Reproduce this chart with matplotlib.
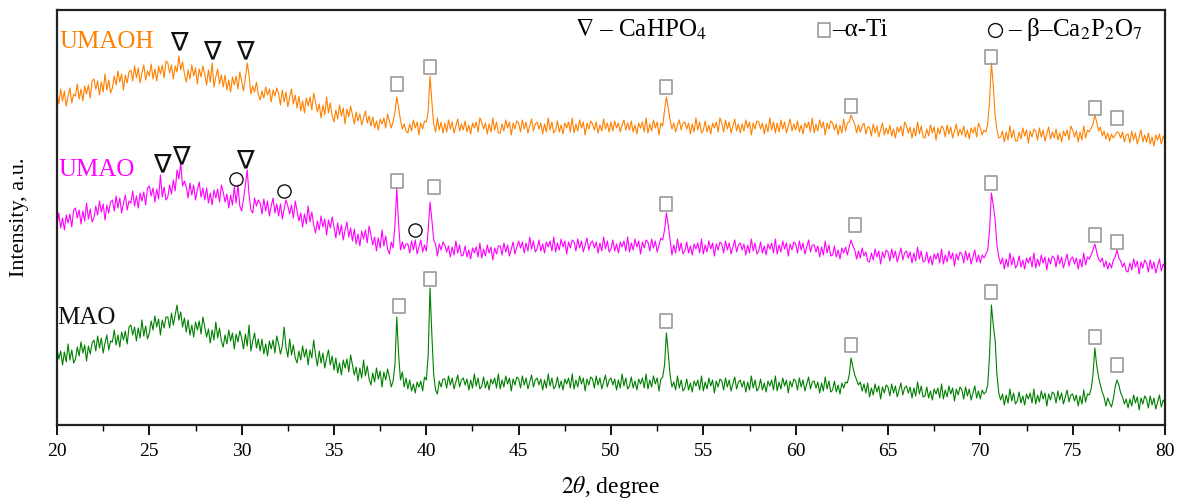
import numpy as np
import matplotlib
matplotlib.use("Agg")
import matplotlib.pyplot as plt
from matplotlib.path import Path
from matplotlib.ticker import MultipleLocator

plt.rcParams["font.family"] = ["Liberation Serif", "DejaVu Sans"]
plt.rcParams["mathtext.fontset"] = "stix"

# 2theta grid, 0.1 degree step
two_theta = np.linspace(20, 80, 601)

# intensities (a.u., each pattern above its own baseline)
umaoh = [
    67,56,71,59,69,54,64,72,57,66,
    64,76,61,71,59,74,66,75,62,79,
    81,71,79,65,78,68,86,70,80,67,
    72,84,75,89,78,86,70,85,77,88,
    90,79,94,82,92,77,87,95,80,89,
    84,96,81,91,79,94,86,95,82,99,
    97,87,95,81,94,88,104,90,98,86,
    78,90,81,95,84,92,76,91,83,94,
    86,75,90,78,97,73,83,91,76,85,
    73,85,70,80,68,83,75,84,71,88,
    79,69,82,97,85,66,74,68,78,65,
    60,69,62,73,65,71,58,70,64,72,
    66,55,70,58,68,53,63,71,56,65,
    52,64,49,59,47,62,54,63,50,67,
    58,48,56,42,55,45,63,47,57,44,
    38,50,41,55,44,52,36,51,43,54,
    45,36,48,39,46,35,42,49,37,44,
    34,43,32,39,30,41,36,42,32,46,
    39,32,38,48,63,52,40,31,36,29,
    27,36,29,40,32,38,25,37,31,39,
    38,48,84,58,36,28,42,30,38,27,
    37,28,40,31,38,27,34,41,29,36,
    30,39,28,35,26,37,32,38,28,42,
    38,31,37,26,36,28,42,30,38,27,
    27,36,29,40,32,38,25,37,31,39,
    37,28,40,31,38,27,34,41,29,36,
    38,31,37,26,36,28,42,30,38,27,
    30,39,28,35,26,37,32,38,28,42,
    27,36,29,40,32,38,25,37,31,39,
    36,30,38,27,35,29,41,31,37,28,
    38,29,39,32,37,28,35,40,30,37,
    30,39,28,35,26,37,32,38,28,42,
    27,36,29,40,32,38,25,37,34,50,
    63,52,40,31,37,28,35,40,30,37,
    38,31,37,26,36,28,42,30,38,27,
    30,39,28,35,26,37,32,38,28,42,
    37,28,40,31,38,27,34,41,29,36,
    27,36,29,40,32,38,25,37,31,39,
    38,31,37,26,36,28,42,30,38,27,
    37,28,40,31,38,27,34,41,29,36,
    30,39,28,35,26,37,32,38,28,42,
    27,36,29,40,32,38,25,37,31,39,
    37,30,36,25,35,27,41,29,37,38,
    45,40,36,27,35,28,34,37,26,33,
    33,24,36,27,34,23,30,37,25,32,
    26,35,24,31,22,33,28,34,24,38,
    34,27,33,22,32,24,38,26,34,23,
    22,31,24,35,27,33,20,32,26,34,
    32,23,35,26,33,22,29,36,24,31,
    25,34,23,30,21,32,27,33,23,37,
    32,25,30,28,36,60,97,75,45,30,
    22,23,29,18,28,20,34,22,30,19,
    19,28,21,32,24,30,17,29,23,31,
    29,20,32,23,30,19,26,33,21,28,
    22,31,20,27,18,29,24,30,20,34,
    30,23,29,18,28,20,34,22,30,28,
    32,36,45,38,29,33,24,29,21,27,
    19,26,22,25,28,27,22,28,18,25,
    26,17,29,20,27,16,23,30,18,25,
    18,27,16,23,14,25,20,26,16,24,
    20,
]

umao = [
    60,72,57,67,55,70,62,71,58,75,
    77,67,75,61,74,64,82,66,76,63,
    67,79,70,84,73,81,65,80,72,83,
    85,74,89,77,87,72,82,90,75,84,
    82,94,79,89,77,92,84,93,80,97,
    99,89,97,83,96,86,110,88,98,85,
    88,100,91,105,94,115,106,122,99,104,
    98,87,102,90,100,85,95,103,88,97,
    85,97,82,92,80,95,87,96,83,100,
    93,83,91,77,90,80,98,82,100,79,
    74,86,100,115,90,75,72,87,79,85,
    82,71,86,74,84,69,79,87,72,81,
    69,81,66,76,85,79,71,80,67,84,
    74,64,72,58,71,61,79,63,73,60,
    52,64,55,69,58,66,50,65,57,68,
    58,47,62,50,60,45,55,63,48,57,
    44,56,41,51,39,54,46,55,42,59,
    50,40,48,34,47,37,55,39,49,36,
    31,43,37,60,97,60,35,43,36,41,
    41,32,44,35,45,31,38,45,33,40,
    34,55,83,65,45,41,29,41,35,43,
    40,33,39,28,38,30,44,32,40,29,
    30,39,28,35,26,37,32,38,28,42,
    27,36,29,40,32,38,25,37,31,39,
    39,30,42,33,40,29,36,43,31,38,
    44,37,43,32,42,34,48,36,44,33,
    36,45,34,41,32,43,38,44,34,48,
    33,42,35,46,38,44,31,43,37,45,
    43,34,46,37,44,33,40,47,35,42,
    44,37,43,32,42,34,48,36,44,33,
    36,45,34,41,32,43,38,44,34,48,
    33,42,35,46,38,44,31,43,37,45,
    43,34,46,37,44,33,40,47,45,55,
    72,60,45,30,40,32,46,34,42,31,
    34,43,32,39,30,41,36,42,32,46,
    31,40,33,44,36,42,29,41,35,43,
    41,32,44,35,42,31,38,45,33,40,
    42,35,41,30,40,32,46,34,42,31,
    34,43,32,39,30,41,36,42,32,46,
    31,40,33,44,36,42,29,41,35,43,
    41,32,44,35,42,31,38,45,33,40,
    40,33,39,28,38,30,44,32,40,29,
    30,39,28,35,26,37,32,38,30,38,
    45,39,35,26,34,27,37,29,33,24,
    23,32,25,36,28,34,21,33,27,35,
    33,24,36,27,34,23,30,37,25,32,
    34,27,33,22,32,24,38,26,34,23,
    24,33,22,29,20,31,26,32,22,36,
    21,30,23,34,26,32,19,31,25,33,
    31,22,34,25,32,21,28,35,23,30,
    22,30,27,31,35,55,92,80,65,40,
    28,21,27,16,26,18,32,20,28,17,
    20,29,18,25,16,27,22,28,18,32,
    17,26,19,30,22,28,15,27,21,29,
    27,18,30,21,28,17,24,31,19,26,
    28,21,27,16,26,18,32,20,28,26,
    30,35,41,33,26,23,27,18,24,16,
    22,17,25,28,35,27,24,18,22,14,
    13,22,15,26,18,24,11,23,17,25,
    22,13,25,16,23,12,19,26,14,21,
    17,
]

mao = [
    76,66,74,60,73,63,81,65,75,62,
    66,78,69,83,72,80,64,79,71,82,
    85,74,89,77,87,72,82,90,75,84,
    83,95,80,90,78,93,85,94,81,98,
    100,90,98,84,97,87,105,89,99,86,
    92,104,95,109,98,106,90,105,97,108,
    108,97,112,100,110,120,105,113,98,107,
    93,105,90,100,88,103,95,104,91,108,
    98,88,96,82,95,85,103,87,97,84,
    78,90,81,95,84,92,76,91,83,94,
    87,76,91,79,100,74,84,92,77,86,
    74,86,71,81,69,84,76,85,72,89,
    81,71,79,98,78,68,86,70,80,67,
    62,74,65,79,68,76,60,75,67,85,
    70,59,74,62,72,57,67,75,60,69,
    55,67,52,62,50,65,57,66,53,70,
    60,50,58,44,57,47,65,49,59,46,
    40,52,43,57,46,54,38,53,45,56,
    48,38,44,60,108,70,45,53,38,47,
    36,45,34,41,32,43,38,44,34,48,
    45,70,137,90,50,35,31,44,38,46,
    46,37,49,40,47,36,43,50,38,45,
    47,40,46,35,45,37,51,39,47,36,
    39,48,37,44,35,46,41,47,37,51,
    36,45,38,49,41,47,34,46,40,48,
    46,37,49,40,47,36,43,50,38,45,
    47,40,46,35,45,37,51,39,47,36,
    39,48,37,44,35,46,41,47,37,51,
    36,45,38,49,41,47,34,46,40,48,
    46,37,49,40,47,36,43,50,38,45,
    47,40,46,35,45,37,51,39,47,36,
    39,48,37,44,35,46,41,47,37,51,
    36,45,38,49,41,47,34,46,48,60,
    92,72,50,38,43,35,49,37,45,34,
    37,46,35,42,33,44,39,45,35,49,
    34,43,36,47,39,45,32,44,38,46,
    44,35,47,38,45,34,41,48,36,43,
    45,38,44,33,43,35,49,37,45,34,
    37,46,35,42,33,44,39,45,35,49,
    34,43,36,47,39,45,32,44,38,46,
    44,35,47,38,45,34,41,48,36,43,
    44,37,43,32,42,34,48,36,44,33,
    35,44,33,40,31,42,37,43,42,50,
    67,58,50,45,40,43,34,41,32,42,
    28,37,30,41,33,39,26,38,32,40,
    38,29,41,32,39,28,35,42,30,37,
    39,32,38,27,37,29,43,31,39,28,
    29,38,27,34,25,36,31,37,27,41,
    26,35,28,39,31,37,24,36,30,38,
    35,26,38,29,36,25,32,39,27,34,
    26,35,31,33,40,70,120,100,85,50,
    32,25,31,20,30,22,36,24,32,21,
    24,33,22,29,20,31,26,32,22,36,
    21,30,23,34,26,32,19,31,25,33,
    31,22,34,25,32,21,28,35,23,30,
    31,24,30,19,29,21,35,23,31,30,
    36,50,77,60,48,40,33,28,19,27,
    22,18,26,38,45,40,32,28,21,26,
    17,26,19,30,22,28,15,27,21,29,
    26,17,29,20,27,16,23,30,18,25,
    22,
]

# phase markers (2theta, height in plot units)
umaoh_hpo = [(26.6, 382), (28.4, 373), (30.2, 373)]
umaoh_ti = [(38.4, 341), (40.2, 358), (53.0, 338), (63.0, 319), (70.6, 368), (76.2, 317), (77.4, 307)]
umao_hpo = [(25.7, 260), (26.7, 268), (30.2, 264)]
umao_pyro = [(29.7, 246), (32.3, 234), (39.4, 195)]
umao_ti = [(38.4, 244), (40.4, 238), (53.0, 221), (63.2, 200), (70.6, 242), (76.2, 190), (77.4, 183)]
mao_ti = [(38.5, 119), (40.2, 146), (53.0, 104), (63.0, 80), (70.6, 133), (76.2, 88), (77.4, 60)]

fig = plt.figure(figsize=(11.82, 5.0), dpi=100)
ax = fig.add_axes([57/1182, 75/500, 1108/1182, 415/500])

ax.plot(two_theta, np.array(mao) + 0, color="#008000", lw=0.8)
ax.plot(two_theta, np.array(umao) + 140, color="#ff00ff", lw=0.8)
ax.plot(two_theta, np.array(umaoh) + 265, color="#ff8000", lw=0.8)

box = Path([(-0.4, -0.5), (0.4, -0.5), (0.4, 0.5), (-0.4, 0.5), (-0.4, -0.5)],
           [Path.MOVETO, Path.LINETO, Path.LINETO, Path.LINETO, Path.CLOSEPOLY])

for pts in [umaoh_ti, umao_ti, mao_ti]:
    xs, ys = zip(*pts)
    ax.plot(xs, ys, ls="none", marker=box, ms=10, mfc="none", mec="#9a9a9a", mew=1.2)

xs, ys = zip(*umao_pyro)
ax.plot(xs, ys, ls="none", marker="o", ms=9.5, mfc="none", mec="#111111", mew=1.0)

for x, y in umaoh_hpo + umao_hpo:
    ax.text(x, y, "∇", fontsize=19, ha="center", va="center", color="#111111",
            family=["DejaVu Sans"])

# sample names
ax.text(20.15, 383, "UMAOH", color="#ff8000", fontsize=18, va="center", ha="left")
ax.text(20.1, 255, "UMAO", color="#ff00ff", fontsize=18, va="center", ha="left")
ax.text(20.0, 107, "MAO", color="#111111", fontsize=18, va="center", ha="left")

# phase key
ax.text(0.4675, 0.952, r"$\nabla$ – CaHPO$_4$", transform=ax.transAxes, fontsize=18,
        va="center", ha="left")
ax.plot([0.6925], [0.952], transform=ax.transAxes, ls="none", marker=box, ms=10,
        mfc="none", mec="#9a9a9a", mew=1.2, clip_on=False)
ax.text(0.700, 0.952, "–α-Ti", transform=ax.transAxes, fontsize=18,
        va="center", ha="left")
ax.plot([0.8465], [0.952], transform=ax.transAxes, ls="none", marker="o", ms=10,
        mfc="none", mec="#111111", mew=1.0, clip_on=False)
ax.text(0.858, 0.952, "– β–Ca$_2$P$_2$O$_7$", transform=ax.transAxes, fontsize=18,
        va="center", ha="left")

ax.set_xlim(20, 80)
ax.set_ylim(0, 415)
ax.xaxis.set_major_locator(MultipleLocator(5))
ax.xaxis.set_minor_locator(MultipleLocator(2.5))
ax.set_yticks([])
ax.tick_params(axis="x", which="major", direction="out", length=7, width=1.3, labelsize=14, pad=6)
ax.tick_params(axis="x", which="minor", direction="out", length=4, width=1.0)
for s in ax.spines.values():
    s.set_linewidth(1.6)
    s.set_color("#222222")

ax.set_xlabel(r"$\mathit{2}\theta$, degree", fontsize=17, labelpad=10)
ax.set_ylabel("Intensity, a.u.", fontsize=16, labelpad=20)

fig.savefig("out.png", dpi=100)
